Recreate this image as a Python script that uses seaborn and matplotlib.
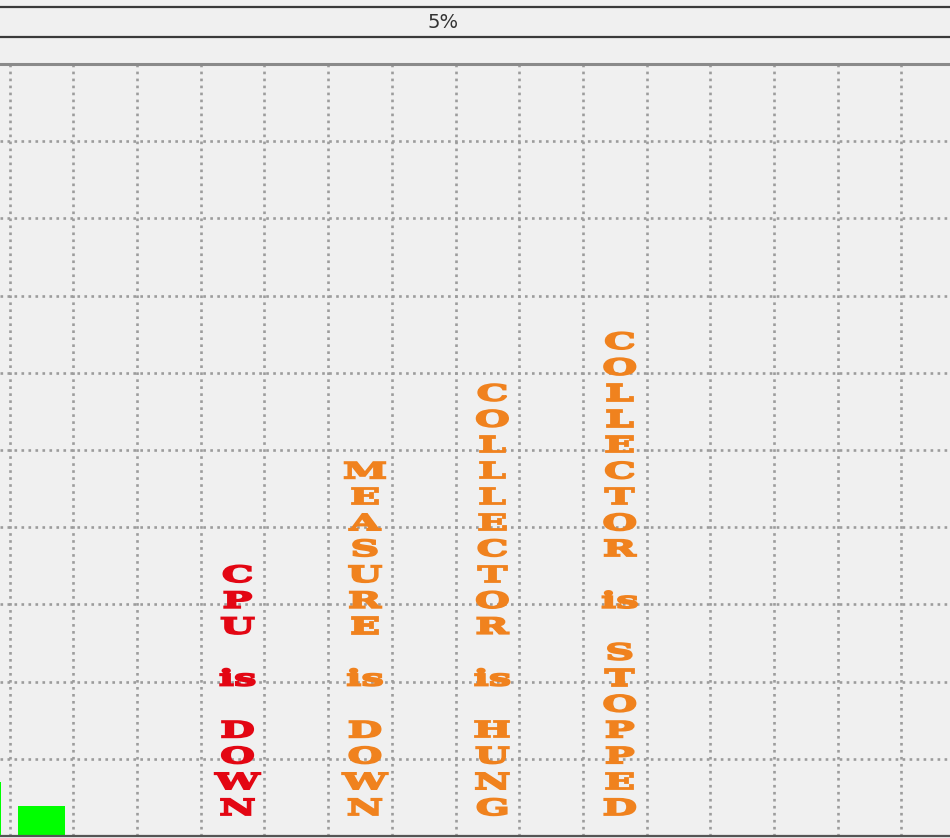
import matplotlib
matplotlib.use("Agg")
import matplotlib.pyplot as plt
import numpy as np
import pandas as pd
import seaborn as sns
from matplotlib import patheffects
from matplotlib.transforms import Affine2D

# ---- data -------------------------------------------------------------
hosts = [f"node{i:02d}" for i in range(16)]
load = [7.0, 3.9, 0, 0, 0, 0, 0, 0, 0, 0, 0, 0, 0, 0, 0, 0]

status_slots = [4, 6, 8, 10]
status_text = ["CPU is DOWN", "MEASURE is DOWN",
               "COLLLECTOR is HUNG", "COLLECTOR is STOPPED"]
status_color = ["#e30613", "#f0821e", "#f0821e", "#f0821e"]

header_text = "5%"

# ---- style ------------------------------------------------------------
BG = "#f0f0f0"
sns.set_theme(style="whitegrid", rc={
    "figure.facecolor": BG,
    "axes.facecolor": BG,
    "savefig.facecolor": BG,
})
plt.rcParams["font.family"] = ["DejaVu Sans"]


class WideGlyphs(patheffects.AbstractPathEffect):
    """Stretch each glyph horizontally about its own centre and thicken it."""

    def __init__(self, sx, stroke):
        super().__init__()
        self._sx = sx
        self._stroke = stroke

    def draw_path(self, renderer, gc, tpath, affine, rgbFace=None):
        ext = tpath.get_extents(affine)
        cx = 0.5 * (ext.x0 + ext.x1)
        aff = affine + Affine2D().translate(-cx, 0).scale(self._sx, 1).translate(cx, 0)
        gc0 = renderer.new_gc()
        gc0.copy_properties(gc)
        gc0.set_linewidth(self._stroke)
        gc0.set_foreground(rgbFace)
        gc0.set_joinstyle("miter")
        renderer.draw_path(gc0, tpath, aff, rgbFace)
        gc0.restore()


def stack_lines(msg):
    out = []
    for k, word in enumerate(msg.split()):
        if k:
            out.append("")
        out.extend(list(word) if word.isupper() else [word])
    return out


W, H = 950, 838
fig = plt.figure(figsize=(W / 100, H / 100), dpi=100)

# header strip with the percentage
hax = fig.add_axes([0, (H - 37) / H, 1, 30 / H])
hax.set_facecolor(BG)
hax.set_xticks([]); hax.set_yticks([])
hax.grid(False)
for s in ("left", "right"):
    hax.spines[s].set_visible(False)
for s in ("top", "bottom"):
    hax.spines[s].set_color("#3a3a3a")
    hax.spines[s].set_linewidth(1.6)
fig.text(443 / W, (H - 22) / H, header_text, ha="center", va="center",
         fontsize=14, color="#333333", family="DejaVu Sans")

# main plot area
ax = fig.add_axes([0, 2 / H, 1, 772 / H])
df = pd.DataFrame({"host": hosts, "load": load})
sns.barplot(data=df, x="host", y="load", order=hosts, color="#00ff00",
            saturation=1, width=0.74, linewidth=0, ax=ax)

ax.set_yticks(np.arange(0, 101, 10))
ax.set_xticks(np.arange(-0.5, 16, 1.0))
ax.set_xticklabels([]); ax.set_yticklabels([])
ax.set_ylim(0, 100)
ax.set_xlim(0.35, 0.35 + W / 63.71)
ax.set_xlabel(""); ax.set_ylabel("")
ax.tick_params(length=0)
ax.grid(True, which="major", linestyle=":", color="#9c9c9c", linewidth=1.9)
ax.set_axisbelow(True)

for s in ("left", "right"):
    ax.spines[s].set_visible(False)
ax.spines["top"].set_color("#8a8a8a")
ax.spines["top"].set_linewidth(2.2)
ax.spines["bottom"].set_color("#555555")
ax.spines["bottom"].set_linewidth(1.6)

# vertical status messages, one glyph per line, resting on the baseline
step = 25.9
for slot, msg, col in zip(status_slots, status_text, status_color):
    lines = stack_lines(msg)
    for i, line in enumerate(reversed(lines)):
        if not line:
            continue
        ax.annotate(line, xy=(slot, 0), xytext=(5, 21 + i * step),
                    textcoords="offset pixels", ha="center", va="baseline",
                    fontsize=16, family="DejaVu Serif", fontweight="bold",
                    color=col, annotation_clip=False,
                    path_effects=[WideGlyphs(1.8, 1.3)])

fig.savefig("out.png", dpi=100, facecolor=BG)
